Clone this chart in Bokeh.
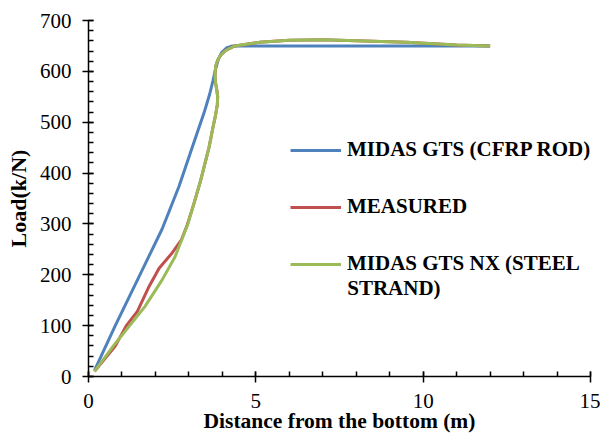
from bokeh.plotting import figure
from bokeh.models import (Range1d, FixedTicker, Legend, LegendItem, Label)
from bokeh.embed import file_html
from bokeh.resources import INLINE

# ---- data ----
cfrp_x = [0.18, 0.8, 1.5, 2.2, 2.7, 3.2, 3.45, 3.62, 3.72, 3.8, 3.88, 3.98, 4.12, 4.3, 5.0, 8.0, 12.0]
cfrp_y = [12, 100, 195, 290, 373, 470, 518, 555, 582, 605, 624, 637, 646, 650, 650, 650, 650]

meas_x = [0.18, 0.8, 1.13, 1.46, 1.81, 2.11, 2.5, 2.77, 2.95, 3.15, 3.35, 3.6, 3.72, 3.8, 3.85,
          3.86, 3.83, 3.79, 3.78, 3.8, 3.86, 3.95, 4.1, 4.37, 5.1, 6.0, 7.0, 8.0, 9.5, 11.0, 12.0]
meas_y = [10, 60, 100, 128, 177, 213, 243, 268, 298, 340, 385, 450, 490, 515, 535,
          550, 565, 580, 595, 610, 622, 632, 641, 650, 657, 661, 662, 660, 657, 652, 650]

steel_x = [0.18, 0.8, 1.23, 1.69, 2.2, 2.59, 2.97, 3.15, 3.35, 3.6, 3.72, 3.8, 3.85,
           3.86, 3.83, 3.79, 3.78, 3.8, 3.86, 3.95, 4.1, 4.37, 5.1, 6.0, 7.0, 8.0, 9.5, 11.0, 12.0]
steel_y = [10, 65, 100, 138, 190, 236, 300, 340, 385, 450, 490, 515, 535,
           550, 565, 580, 595, 610, 622, 632, 641, 650, 657, 661, 662, 660, 657, 652, 650]

labels = ["MIDAS GTS (CFRP ROD)", "MEASURED", "MIDAS GTS NX (STEEL", "STRAND)"]
x_title = "Distance from the bottom (m)"
y_title = "Load(k/N)"
x_ticks = [0, 5, 10, 15]
y_ticks = [0, 100, 200, 300, 400, 500, 600, 700]

BLUE = "#4F81BD"
RED = "#C0504D"
GREEN = "#9BBB59"
FONT = "Liberation Serif"

p = figure(width=600, height=437, output_backend="svg", toolbar_location=None,
           x_range=Range1d(0, 15), y_range=Range1d(0, 700),
           min_border_left=88, min_border_right=10, min_border_top=20,
           min_border_bottom=61)
p.outline_line_color = None
p.xgrid.visible = False
p.ygrid.visible = False
p.background_fill_color = "white"
p.border_fill_color = "white"

r1 = p.line(cfrp_x, cfrp_y, line_color=BLUE, line_width=3)
r2 = p.line(meas_x, meas_y, line_color=RED, line_width=3)
r3 = p.line(steel_x, steel_y, line_color=GREEN, line_width=3)

p.xaxis.ticker = FixedTicker(ticks=x_ticks, minor_ticks=list(range(0, 16)))
p.yaxis.ticker = FixedTicker(ticks=y_ticks, minor_ticks=list(range(0, 701, 20)))

for ax in (p.xaxis[0], p.yaxis[0]):
    ax.axis_line_color = "black"
    ax.axis_line_width = 1.5
    ax.major_tick_line_color = "black"
    ax.major_tick_line_width = 1.5
    ax.minor_tick_line_color = "black"
    ax.minor_tick_line_width = 1.5
    ax.major_tick_in = 5
    ax.major_tick_out = 6
    ax.minor_tick_in = 5
    ax.minor_tick_out = 0
    ax.major_label_text_font = FONT
    ax.major_label_text_font_size = "21px"
    ax.major_label_text_color = "black"
    ax.axis_label_text_font = FONT
    ax.axis_label_text_font_style = "bold"
    ax.axis_label_text_color = "black"

p.xaxis.axis_label = x_title
p.yaxis.axis_label = y_title
p.xaxis.axis_label_text_font_size = "21.5px"
p.yaxis.axis_label_text_font_size = "22px"
p.xaxis.major_label_standoff = 11
p.yaxis.major_label_standoff = 11
p.xaxis.axis_label_standoff = -2
p.yaxis.axis_label_standoff = 6

legend = Legend(items=[LegendItem(label=labels[0], renderers=[r1]),
                       LegendItem(label=labels[1], renderers=[r2]),
                       LegendItem(label=labels[2], renderers=[r3])],
                location=(202, 100), orientation="vertical",
                padding=0, margin=0, spacing=32,
                glyph_width=51, glyph_height=24, label_height=24,
                label_standoff=6,
                label_text_font=FONT, label_text_font_size="21px",
                label_text_font_style="bold", label_text_color="black",
                border_line_color=None, background_fill_alpha=0)
p.add_layout(legend)

p.add_layout(Label(x=7.73, y=175, text=labels[3], text_font=FONT,
                   text_font_size="21px", text_font_style="bold",
                   text_color="black", text_baseline="middle", text_align="left"))

open("out.html", "w").write(file_html(p, INLINE))
